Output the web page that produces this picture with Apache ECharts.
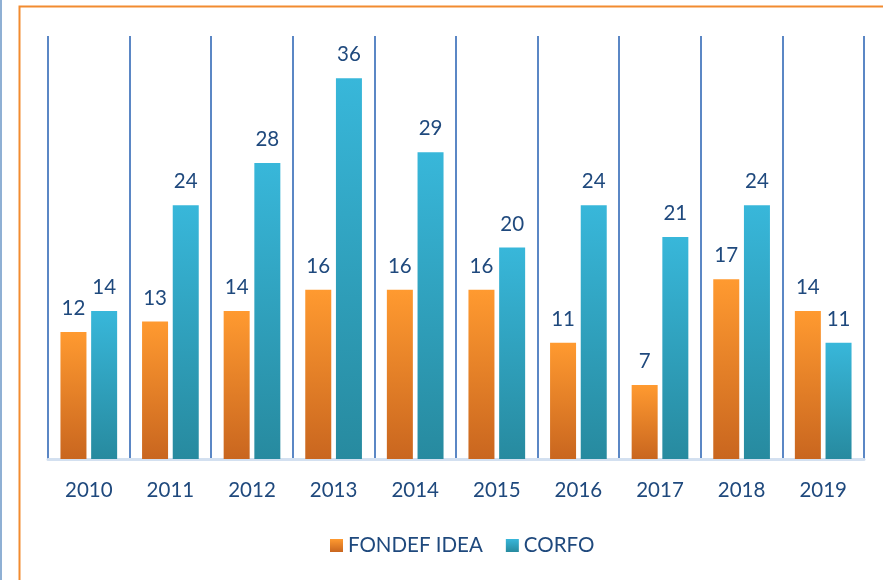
<!DOCTYPE html>
<html>
<head>
<meta charset="utf-8">
<script src="https://cdn.jsdelivr.net/npm/echarts@6/dist/echarts.min.js"></script>
<style>
  html, body { margin: 0; padding: 0; background: #fff; }
  #chart { width: 883px; height: 580px; }
</style>
</head>
<body>
<div id="chart"></div>
<script>
// datos
const years = ['2010', '2011', '2012', '2013', '2014', '2015', '2016', '2017', '2018', '2019']
const fondefIdea = [12, 13, 14, 16, 16, 16, 11, 7, 17, 14]
const corfo = [14, 24, 28, 36, 29, 20, 24, 21, 24, 11]

const textColor = '#1F497D'
const font = 'Lato, "Open Sans", sans-serif'

const grad = (top, bottom) => new echarts.graphic.LinearGradient(0, 0, 0, 1, [
  { offset: 0, color: top },
  { offset: 1, color: bottom }
])

const chart = echarts.init(document.getElementById('chart'))

const labelStyle = {
  show: true,
  position: 'top',
  distance: 13,
  color: textColor,
  fontSize: 20.5,
  fontFamily: font
}

const option = {
  animation: false,
  graphic: [
    {
      type: 'line',
      shape: { x1: 1, y1: 0, x2: 1, y2: 580 },
      style: { stroke: '#8FB0D4', lineWidth: 2 }
    },
    {
      type: 'polyline',
      shape: { points: [[19.5, 580], [19.5, 6.5], [883, 6.5]] },
      style: { stroke: '#F28B30', lineWidth: 2, fill: null }
    }
  ],
  legend: {
    bottom: 19,
    left: 325,
    itemWidth: 13,
    itemHeight: 13,
    itemGap: 23,
    icon: 'rect',
    textStyle: { color: textColor, fontSize: 20.5, fontFamily: font },
    data: ['FONDEF IDEA', 'CORFO']
  },
  grid: { left: 48, right: 19, top: 36, bottom: 121 },
  xAxis: {
    type: 'category',
    data: years,
    axisTick: { show: false },
    axisLine: { lineStyle: { color: '#D3E0F0', width: 3 } },
    axisLabel: { color: textColor, fontSize: 20.5, fontFamily: font, margin: 21 },
    splitLine: { show: true, lineStyle: { color: '#5B87C5', width: 2 } }
  },
  yAxis: {
    type: 'value',
    min: 0,
    max: 40,
    show: false,
    splitLine: { show: false }
  },
  series: [
    {
      name: 'FONDEF IDEA',
      type: 'bar',
      data: fondefIdea,
      barWidth: 26,
      barGap: '18%',
      itemStyle: { color: grad('#FF9A30', '#C9661F') },
      label: labelStyle
    },
    {
      name: 'CORFO',
      type: 'bar',
      data: corfo,
      barWidth: 26,
      itemStyle: { color: grad('#38B7DA', '#278A9F') },
      label: labelStyle
    }
  ]
}

chart.setOption(option)
</script>
</body>
</html>
